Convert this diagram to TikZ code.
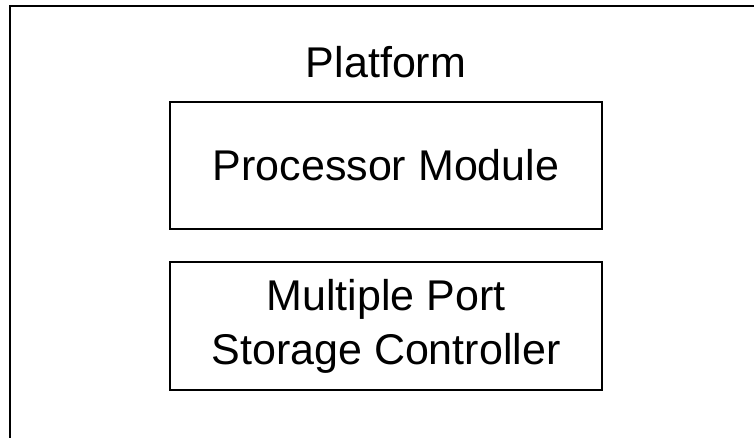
\documentclass[tikz,border=0pt]{standalone}
\usepackage{fontspec}
\setmainfont{Liberation Sans}
\begin{document}
\begin{tikzpicture}[x=1pt,y=1pt]
\tikzstyle{every node}+=[inner sep=0pt, font=\fontsize{43}{54}\selectfont]
\tikzstyle{module}=[draw=black, line width=1.7pt, minimum width=432pt, align=center]
\useasboundingbox (0,0) rectangle (754,-437);
\draw [black, line width=1.7pt] (10,-445) -- (10,-6) -- (765,-6);
\node (platform) at (386,-62) {Platform};
\node [module, minimum height=127pt] (proc) at (386,-165.5) {Processor Module};
\node [module, minimum height=128pt] (mpsc) at (386,-326) {Multiple Port\\Storage Controller};
\end{tikzpicture}
\end{document}
